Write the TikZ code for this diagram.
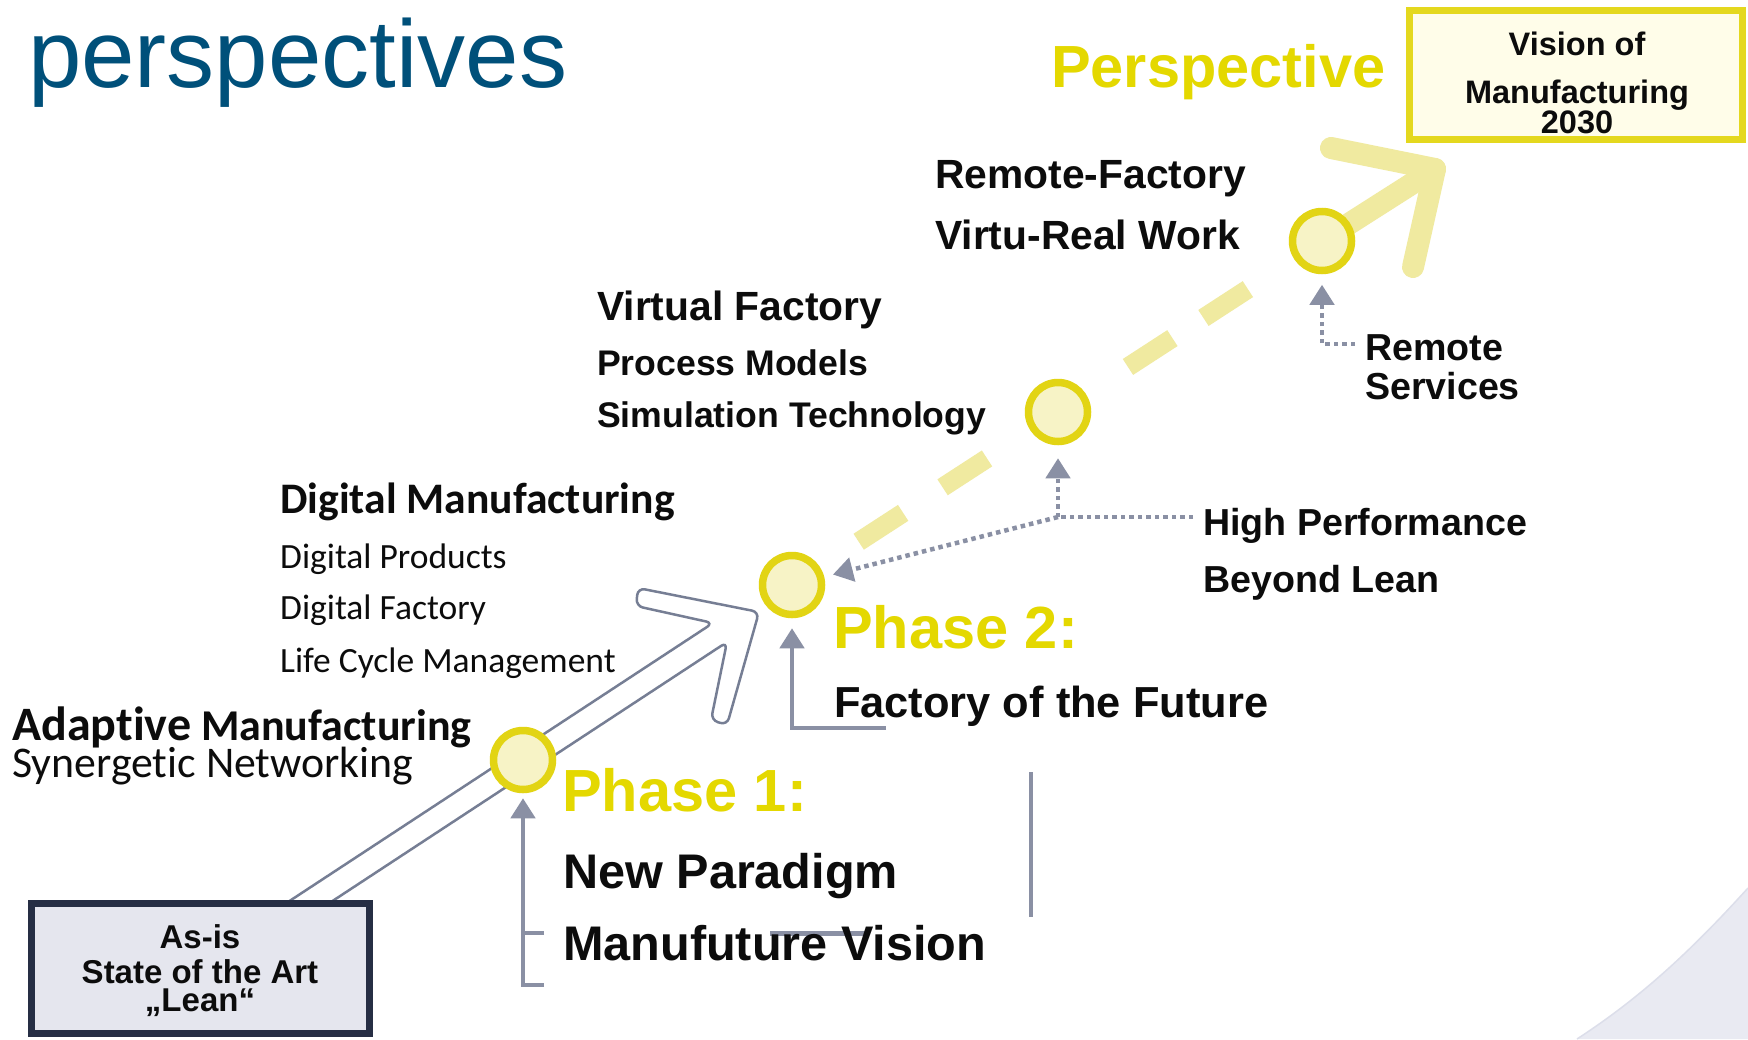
\documentclass[tikz,border=0pt]{standalone}
\usepackage{fontspec}
\usepackage{graphicx}
\setmainfont{Liberation Sans}
\newfontfamily\calfont[Ligatures=NoCommon]{Carlito}
\usetikzlibrary{arrows.meta,calc}
\newcommand{\setfs}[1]{\fontsize{#1}{#1}\selectfont}
\definecolor{titleblue}{RGB}{0,80,122}
\definecolor{yel}{RGB}{228,216,0}
\definecolor{ring}{RGB}{226,212,20}
\definecolor{ringfill}{RGB}{247,243,198}
\definecolor{paleyel}{RGB}{240,234,160}
\definecolor{grayarrow}{RGB}{138,144,164}
\definecolor{outlinec}{RGB}{118,126,148}
\definecolor{asisborder}{RGB}{38,46,68}
\definecolor{asisfill}{RGB}{229,230,238}
\definecolor{visfill}{RGB}{255,253,233}
\definecolor{visborder}{RGB}{228,216,30}
\definecolor{swooshc}{RGB}{233,234,242}
\definecolor{swooshe}{RGB}{220,222,234}
\definecolor{ink}{RGB}{12,12,12}
\begin{document}
\begin{tikzpicture}[x=1pt,y=-1pt,
  txt/.style={inner sep=0pt, anchor=base west, text=ink},
  ctxt/.style={inner sep=0pt, anchor=base, text=ink},
  circ/.style={circle, draw=ring, fill=ringfill, line width=7.5pt, minimum size=59pt, inner sep=0pt},
  pdash/.style={draw=paleyel, line width=19pt},
  parrow/.style={draw=paleyel, line width=22pt, line cap=round, line join=round},
  dotl/.style={draw=grayarrow, line width=4.5pt, dash pattern=on 4.5pt off 4pt},
  dotarr/.style={dotl, -{Triangle[length=20pt,width=24pt]}},
  gline/.style={draw=grayarrow, line width=4.5pt},
  garr/.style={gline, -{Triangle[length=20pt,width=24pt]}}]
\useasboundingbox (0,0) rectangle (1748,1039);
\fill[white] (0,0) rectangle (1748,1039);

% decorative swoosh
\fill[swooshc] (1748,888) .. controls (1690,952) and (1640,998) .. (1577,1039) -- (1748,1039) -- cycle;
\draw[draw=swooshe, line width=1.5pt] (1748,888) .. controls (1690,952) and (1640,998) .. (1577,1039);

% title
\node[inner sep=0pt, anchor=base west, text=titleblue] (title) at (28,87) {\setfs{96}perspectives};

% circle centres
\path (523,760) coordinate (c1p) (792,585) coordinate (c2p) (1058,412) coordinate (c3p) (1322,241) coordinate (c4p);

% outline arrow from As-is to phase 1/2
\draw[draw=outlinec, line width=2.5pt, fill=white, rounded corners=7pt]
  (288,902) -- (713,623) -- (636,606) -- (638,588) -- (759,612) -- (727,725) -- (711,720) -- (727,642) -- (331,902);

% yellow dashed path and perspective arrow
\foreach \a/\b in {79.5pt/132.5pt, 179.5pt/232.5pt, 400.5pt/453.5pt, 490.5pt/543.5pt}
  \draw[pdash] ($(c2p)!\a!(c4p)$) -- ($(c2p)!\b!(c4p)$);
\coordinate (ptip) at (1435,169);
\coordinate (pleft) at (1331,148);
\coordinate (pbot) at (1413,267);
\draw[parrow] (c4p) -- (ptip);
\draw[parrow] (pleft) -- (ptip) -- (pbot);

% circles
\node[circ] (c1) at (c1p) {};
\node[circ] (c2) at (c2p) {};
\node[circ] (c3) at (c3p) {};
\node[circ] (c4) at (c4p) {};

% As-is box
\node[draw=asisborder, fill=asisfill, line width=7pt, minimum width=338pt, minimum height=130pt, inner sep=0pt] (asis) at (200.5,968.5) {};
\node[ctxt] (asis1) at (200,948) {\setfs{33}\bfseries As-is};
\node[ctxt] (asis2) at (200,983) {\setfs{33}\bfseries State of the Art};
\node[ctxt] (asis3) at (200,1011) {\setfs{33}\bfseries „Lean“};

% Vision box
\node[draw=visborder, fill=visfill, line width=7pt, minimum width=333pt, minimum height=129pt, inner sep=0pt] (vision) at (1576,75) {};
\node[ctxt] (vis1) at (1577,55) {\setfs{32.5}\bfseries Vision of};
\node[ctxt] (vis2) at (1577,103) {\setfs{32.5}\bfseries Manufacturing};
\node[ctxt] (vis3) at (1577,133) {\setfs{32.5}\bfseries 2030};
\node[inner sep=0pt, anchor=base west, text=yel] (persp) at (1051,87) {\setfs{59.5}\bfseries Perspective};

% gray brackets / arrows
\coordinate (p2h) at (886,728);
\draw[garr, shorten >=10pt] (p2h) -| (c2.south);
\coordinate (p1b) at (544,985);
\draw[garr, shorten >=5pt] (p1b) -| (c1.south);
\coordinate (p1m) at (544,933);
\coordinate (p1mm) at (523,933);
\draw[gline] (p1m) -- (p1mm);
\coordinate (gv1) at (1031,772);
\coordinate (gv2) at (1031,917);
\draw[gline] (gv1) -- (gv2);
\coordinate (gh1) at (770,933);
\coordinate (gh2) at (866,933);
\draw[gline, line width=5pt] (gh1) -- (gh2);

% dotted arrows
\coordinate (rsin) at (1355,344);
\draw[dotarr, shorten >=10.5pt] (rsin) -| (c4.south);
\coordinate (hpin) at (1193,517);
\coordinate (hj) at (1058,517);
\draw[dotl] (hpin) -- (hj);
\draw[dotarr, shorten >=13pt] (hj) -- (c3.south);
\draw[dotarr, shorten >=9pt] (hj) -- (c2);

% left texts (Calibri-like)
\node[txt] (adapt) at (12,740) {\calfont\bfseries\setfs{44}{\setfs{48}Adaptive} Manufacturing};
\node[txt] (syn) at (12,777) {\calfont\setfs{43.8}Synergetic Networking};
\node[txt] (dm) at (280,513) {\calfont\bfseries\setfs{43.6}Digital Manufacturing};
\node[txt] (dp) at (280,568) {\calfont\setfs{35.5}Digital Products};
\node[txt] (df) at (280,619) {\calfont\setfs{35.5}Digital Factory};
\node[txt] (lcm) at (280,672) {\calfont\setfs{35.5}Life Cycle Management};

% Arial-like texts
\node[txt] (vf) at (597,320) {\setfs{40.8}\bfseries Virtual Factory};
\node[txt] (pm) at (597,375) {\setfs{35.6}\bfseries Process Models};
\node[txt] (st) at (597,427) {\setfs{35.6}\bfseries Simulation Technology};
\node[txt] (rf) at (935,188) {\setfs{40.8}\bfseries Remote-Factory};
\node[txt] (vr) at (935,249) {\setfs{40.8}\bfseries Virtu-Real Work};
\node[txt] (rs1) at (1365,360) {\setfs{37.6}\bfseries Remote};
\node[txt] (rs2) at (1365,399) {\setfs{37.6}\bfseries Services};
\node[txt] (hp) at (1203,535) {\setfs{37.6}\bfseries High Performance};
\node[txt] (bl) at (1203,592) {\setfs{37.6}\bfseries Beyond Lean};
\node[inner sep=0pt, anchor=base west, text=yel] (ph2) at (833,648) {\setfs{59.5}\bfseries Phase 2:};
\node[txt] (fof) at (834,717) {\setfs{43.4}\bfseries Factory of the Future};
\node[inner sep=0pt, anchor=base west, text=yel] (ph1) at (562,811) {\setfs{59.5}\bfseries Phase 1:};
\node[txt] (np) at (563,888) {\setfs{48.6}\bfseries New Paradigm};
\node[txt] (mv) at (563,960) {\setfs{48.6}\bfseries Manufuture Vision};
\end{tikzpicture}
\end{document}
